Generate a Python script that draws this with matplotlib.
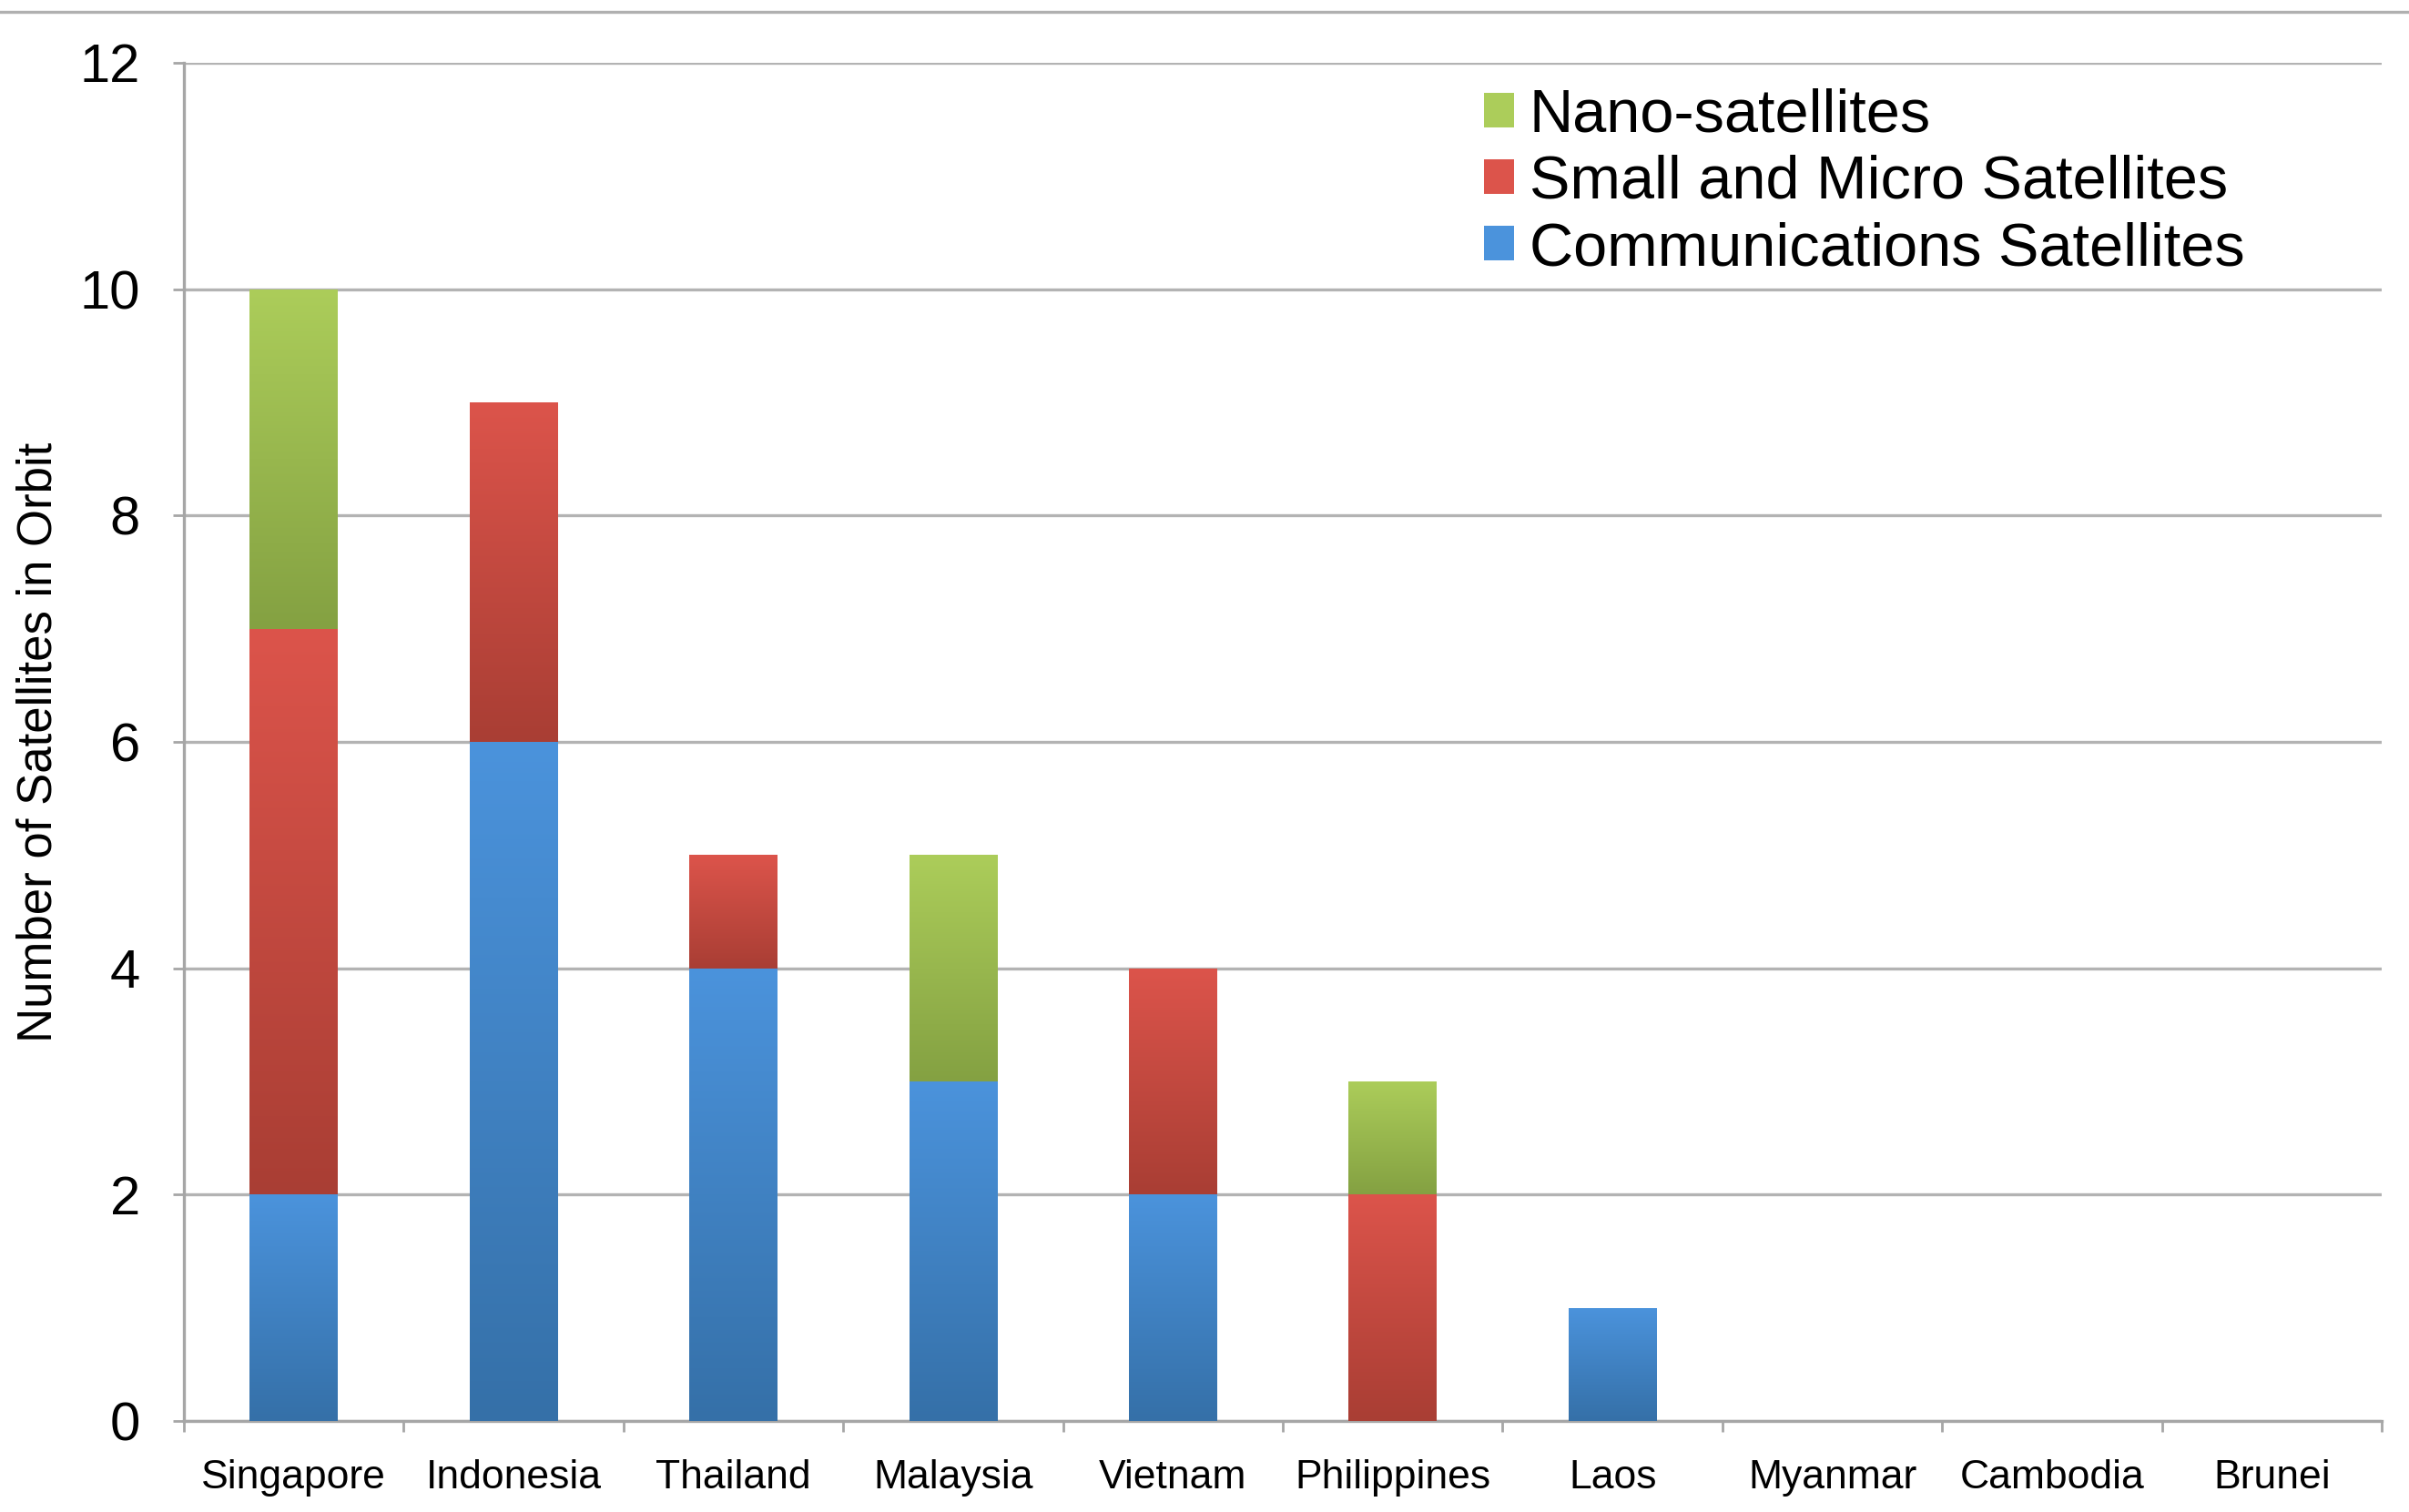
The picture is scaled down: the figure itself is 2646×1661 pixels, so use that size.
import numpy as np
import matplotlib
matplotlib.use("Agg")
import matplotlib.pyplot as plt
import matplotlib.patches as mpatches
import matplotlib.lines as mlines
from matplotlib.colors import LinearSegmentedColormap

plt.rcParams['font.family'] = ['Liberation Sans', 'DejaVu Sans']

countries = ["Singapore", "Indonesia", "Thailand", "Malaysia", "Vietnam",
             "Philippines", "Laos", "Myanmar", "Cambodia", "Brunei"]
comms = [2, 6, 4, 3, 2, 0, 1, 0, 0, 0]
smallMicro = [5, 3, 1, 0, 2, 2, 0, 0, 0, 0]
nano = [3, 0, 0, 2, 0, 1, 0, 0, 0, 0]

seriesNames = ["Communications Satellites", "Small and Micro Satellites", "Nano-satellites"]
# (top colour, bottom colour) for each series gradient
seriesColours = [("#4b93dc", "#3570a8"), ("#dc544b", "#a93e34"), ("#accd5a", "#84a142")]


def gradientFill(ax, bars, top, bottom):
    cmap = LinearSegmentedColormap.from_list("grad", [bottom, top])
    grad = np.linspace(0, 1, 256).reshape(-1, 1)
    for bar in bars:
        h = bar.get_height()
        if h == 0:
            continue
        x, y = bar.get_xy()
        w = bar.get_width()
        im = ax.imshow(grad, cmap=cmap, extent=[x, x + w, y, y + h], origin="lower",
                       aspect="auto", zorder=3, interpolation="bilinear")
        im.set_clip_path(bar)


fig = plt.figure(figsize=(26.46, 16.61), dpi=100)
ax = fig.add_axes([0.0763, 0.0602, 0.9124, 0.8983])

x = np.arange(len(countries))
width = 0.4
bottoms = np.zeros(len(countries))
handles = []
for vals, name, (top, bottom) in zip([comms, smallMicro, nano], seriesNames, seriesColours):
    bars = ax.bar(x, vals, width, bottom=bottoms, color="none", linewidth=0, zorder=2)
    gradientFill(ax, bars, top, bottom)
    bottoms += np.array(vals)
    handles.append(mpatches.Patch(facecolor=top, edgecolor="none", label=name))

ax.set_xlim(-0.5, len(countries) - 0.5)
ax.set_ylim(0, 12)
ax.set_yticks(np.arange(0, 13, 2))
ax.set_xticks(x)
ax.set_xticklabels(countries, fontsize=32)
ax.set_xticks(np.arange(-0.5, len(countries)), minor=True)
ax.tick_params(axis="x", which="major", length=0, pad=30)
ax.tick_params(axis="x", which="minor", length=12 * 0.72, width=2, color="#a6a6a6", direction="out")
ax.tick_params(axis="y", length=12 * 0.72, width=2, color="#a6a6a6", pad=26, labelsize=43)

ax.yaxis.grid(True, color="#b3b3b3", linewidth=2.4)
ax.set_axisbelow(True)
for side in ["top", "right"]:
    ax.spines[side].set_visible(False)
for side in ["left", "bottom"]:
    ax.spines[side].set_color("#a6a6a6")
    ax.spines[side].set_linewidth(2.4)

ax.set_ylabel("Number of Satellites in Orbit", fontsize=38)
ax.yaxis.set_label_coords(-0.0555, 0.5)

ax.legend(handles=handles[::-1], loc="upper left", bbox_to_anchor=(0.616, 0.942),
          bbox_transform=fig.transFigure, frameon=False, fontsize=48,
          handlelength=0.5, handleheight=0.5, handletextpad=0.25,
          labelspacing=0.17, borderpad=0, borderaxespad=0)

# thin rule across the top of the figure
fig.add_artist(mlines.Line2D([0, 1], [0.9919, 0.9919], transform=fig.transFigure,
                             color="#b0b0b0", linewidth=2.4))

fig.savefig("out.png", dpi=100)
